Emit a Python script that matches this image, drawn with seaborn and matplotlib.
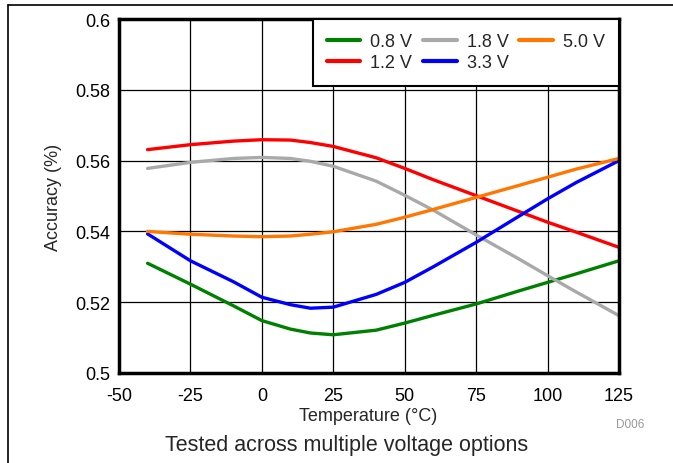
import numpy as np
import pandas as pd
import matplotlib
matplotlib.use("Agg")
import matplotlib.pyplot as plt
import seaborn as sns
from matplotlib.lines import Line2D

temps = [-40, -25, -10, 0, 10, 17, 25, 40, 50, 60, 75, 90, 100, 110, 125]
v08 = [0.5310, 0.5251, 0.5190, 0.5148, 0.5124, 0.5113, 0.5108, 0.5121, 0.5141, 0.5163, 0.5195, 0.5232, 0.5256, 0.5280, 0.5317]
v12 = [0.5631, 0.5645, 0.5655, 0.5659, 0.5658, 0.5651, 0.5640, 0.5608, 0.5578, 0.5546, 0.5501, 0.5456, 0.5426, 0.5398, 0.5355]
v18 = [0.5578, 0.5595, 0.5606, 0.5609, 0.5606, 0.5598, 0.5584, 0.5542, 0.5502, 0.5460, 0.5390, 0.5322, 0.5275, 0.5229, 0.5162]
v33 = [0.5393, 0.5317, 0.5258, 0.5214, 0.5193, 0.5183, 0.5186, 0.5222, 0.5256, 0.5300, 0.5369, 0.5443, 0.5492, 0.5538, 0.5600]
v50 = [0.5400, 0.5392, 0.5387, 0.5385, 0.5387, 0.5392, 0.5399, 0.5420, 0.5440, 0.5462, 0.5496, 0.5530, 0.5553, 0.5576, 0.5606]

labels = ["0.8 V", "1.2 V", "1.8 V", "3.3 V", "5.0 V"]
series = [v08, v12, v18, v33, v50]
colors = ["#008000", "#FF0000", "#A9A9A9", "#0000FF", "#FF7700"]
xticks = [-50, -25, 0, 25, 50, 75, 100, 125]
yticks = [0.5, 0.52, 0.54, 0.56, 0.58, 0.6]
ytick_labels = ["0.5", "0.52", "0.54", "0.56", "0.58", "0.6"]

df = pd.DataFrame({
    "Temperature": np.tile(temps, len(labels)),
    "Accuracy": np.concatenate(series),
    "Voltage": np.repeat(labels, len(temps)),
})

sns.set_style("white")
plt.rcParams["font.family"] = ["Liberation Sans", "DejaVu Sans"]

FS = 13

fig = plt.figure(figsize=(6.73, 4.64), dpi=100)
ax = fig.add_axes([119 / 673, 1 - 374 / 464, 500 / 673, 354 / 464])

sns.lineplot(data=df, x="Temperature", y="Accuracy", hue="Voltage",
             palette=dict(zip(labels, colors)), hue_order=labels,
             linewidth=2.4, ax=ax, legend=False)

ax.set_xlim(-50, 125)
ax.set_ylim(0.5, 0.6)
ax.set_xticks(xticks)
ax.set_xticklabels([str(t) for t in xticks])
ax.set_yticks(yticks)
ax.set_yticklabels(ytick_labels)
ax.tick_params(axis="both", length=0, labelsize=FS, colors="black")
ax.tick_params(axis="y", pad=6)
ax.tick_params(axis="x", pad=10)
ax.grid(True, color="black", linewidth=0.9)
ax.set_axisbelow(True)
for s in ax.spines.values():
    s.set_visible(True)
    s.set_color("black")
    s.set_linewidth(2.5)

ax.set_xlabel("Temperature (\u00b0C)", fontsize=FS)
ax.set_ylabel("Accuracy (%)", fontsize=FS)
ax.xaxis.set_label_coords(0.499, -0.096)
ax.yaxis.set_label_coords(-0.114, 0.5)

handles = [Line2D([0], [0], color=c, lw=3) for c in colors]
leg = ax.legend(handles, labels, loc="upper right", bbox_to_anchor=(1, 1),
                borderaxespad=0, ncol=3, fontsize=FS, frameon=True,
                fancybox=False, handlelength=1.85, handletextpad=0.55,
                columnspacing=0.6, labelspacing=0.2, borderpad=0.8)
leg.get_frame().set_edgecolor("black")
leg.get_frame().set_linewidth(1.5)
leg.get_frame().set_alpha(1)

fig.text(630 / 673, 1 - 425 / 464, "D006", color="#999999", fontsize=8.5,
         ha="center", va="center")
fig.text(347 / 673, 1 - 446 / 464, "Tested across multiple voltage options",
         fontsize=15.5, ha="center", va="center")

fig.add_artist(Line2D([8 / 673, 1], [1 - 6 / 464, 1 - 6 / 464],
                      color="black", lw=1.2, transform=fig.transFigure))
fig.add_artist(Line2D([8 / 673, 8 / 673], [0, 1 - 6 / 464],
                      color="black", lw=1.2, transform=fig.transFigure))

fig.savefig("out.png", dpi=100)
